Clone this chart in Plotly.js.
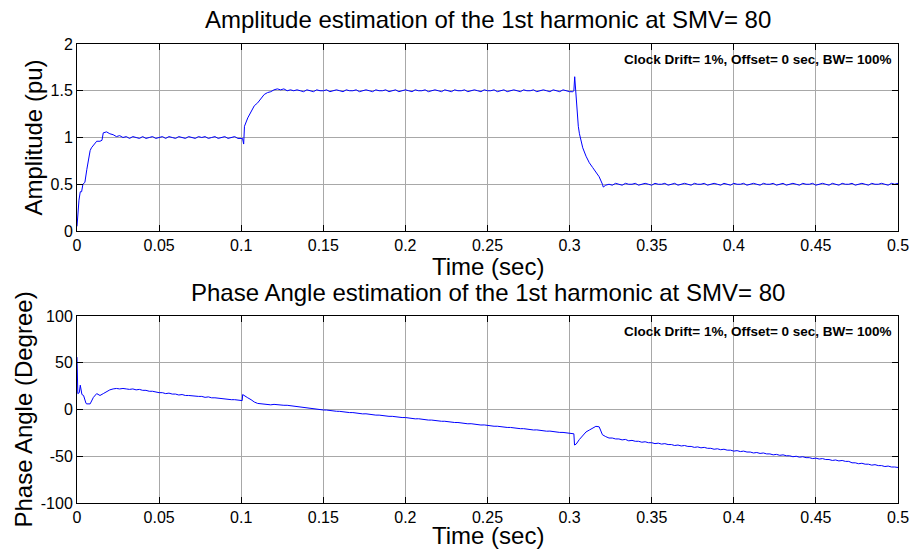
<!DOCTYPE html>
<html>
<head>
<meta charset="utf-8">
<script src="https://cdn.plot.ly/plotly-3.0.1.min.js"></script>
<style>html,body{margin:0;padding:0;background:#fff;}</style>
</head>
<body>
<div id="chart" style="width:917px;height:551px;"></div>
<script>
// ---------- DATA ----------
const sampleStep = 0.002;

// Amplitude (pu), sampled every 2 ms, in three segments
const ampStartTimes = [0, 0.102, 0.302];
const amp0to100 = [0.05,0.42,0.51,0.66,0.86,0.92,0.96,0.96,1.05,1.06,1.04,
  1.03,1.01,1.02,1.00,1.01,0.99,1.01,1.00,0.99,1.01,0.99,1.00,1.01,0.99,1.00,1.01,0.99,1.01,1.00,0.99,
  1.01,1.00,0.99,1.01,1.00,0.99,1.01,1.00,1.01,0.99,1.00,1.01,0.99,1.00,1.01,0.99,1.00,1.01,0.99,0.99];
const amp102to300 = [1.12,1.21,1.27,1.34,1.37,1.41,1.46,1.48,1.49,1.51,1.52,1.51,1.52,1.50,1.51,
  1.50,1.51,1.50,1.49,1.51, 1.50,1.49,1.51,1.50,1.50, 1.51,1.49,1.50,1.51,1.50, 1.49,1.51,1.50,1.50,1.51,
  1.49,1.50,1.51,1.50,1.49, 1.51,1.50,1.50,1.51,1.49, 1.50,1.51,1.49,1.50,1.51, 1.50,1.49,1.51,1.50,1.50,
  1.51,1.49,1.50,1.51,1.50, 1.49,1.51,1.50,1.49,1.51, 1.50,1.50,1.51,1.49,1.50, 1.51,1.50,1.49,1.51,1.50,
  1.50,1.51,1.49,1.50,1.51, 1.49,1.50,1.51,1.50,1.49, 1.51,1.50,1.50,1.51,1.49, 1.50,1.51,1.50,1.49,1.51,
  1.50,1.49,1.51,1.50,1.49];
const amp302to500 = [1.49,1.38,1.04,0.89,0.80,0.73,0.68,0.63,0.58,0.50,
  0.49,0.50,0.49,0.51,0.50, 0.49,0.51,0.50,0.50,0.51, 0.49,0.50,0.51,0.50,0.49, 0.51,0.50,0.50,0.51,0.49,
  0.50,0.51,0.49,0.50,0.51, 0.50,0.49,0.51,0.50,0.50, 0.51,0.49,0.50,0.51,0.50, 0.49,0.51,0.50,0.49,0.51,
  0.50,0.50,0.51,0.49,0.50, 0.51,0.50,0.49,0.51,0.50, 0.50,0.51,0.49,0.50,0.51, 0.49,0.50,0.51,0.50,0.49,
  0.51,0.50,0.50,0.51,0.49, 0.50,0.51,0.50,0.49,0.51, 0.50,0.49,0.51,0.50,0.50, 0.51,0.49,0.50,0.51,0.50,
  0.49,0.51,0.50,0.50,0.51, 0.50,0.49,0.51,0.50,0.51];
// extra samples at the fast transients
const ampExtraT = [0.0003,0.0012,0.0028,0.0036,0.0048,0.0068,0.0088,0.0152,0.1008,0.1015,0.3026,0.3031,0.3053,0.3205];
const ampExtraV = [0.15,0.33,0.42,0.50,0.52,0.74,0.89,0.97,0.99,0.93,1.50,1.65,1.12,0.47];

// Phase angle (degree), sampled every 2 ms, in three segments
const phStartTimes = [0, 0.102, 0.302];
const ph0to100 = [56,26,15,6,6,13,17,15,17,19,21,22,22.5,22,22.5,22,21.5,22,21,21.5,20.5,20.5,19.5,19.5,18.5,18,
  18,17,17.5,16.5,16.5,15.5,16,15,15,14.5,14.5,14,14,13,13.5,12.5,12.5,12,11.5,11.5,11,10.5,10.5,10,9.5];
const ph102to300 = [14.5,12.5,10.5,8,6.5,6,5.5,5.5,5,5.5,5,5,4.5,4.5,4,4,3.5,3,2.5,2,1.5,1,0.5,
  0.0,-0.5,-0.6,-1.2,-1.3,-1.9,-2.0,-2.6,-2.6,-3.3,-3.3,-4.0,-3.9,-4.7,-4.6,-5.3,-5.3,-6.0,-6.0,-6.7,
  -6.6,-7.3,-7.3,-8.0,-8.0,-8.6,-8.6,-9.3,-9.3,-10.0,-9.9,-10.6,-10.6,-11.3,-11.3,-12.0,-11.9,-12.6,
  -12.6,-13.3,-13.2,-13.9,-13.9,-14.6,-14.6,-15.3,-15.2,-15.9,-15.9,-16.6,-16.5,-17.2,-17.2,-17.9,
  -17.9,-18.6,-18.5,-19.2,-19.2,-19.9,-19.8,-20.5,-20.5,-21.2,-21.2,-21.9,-21.8,-22.5,-22.5,-23.2,
  -23.1,-23.8,-23.8,-24.5,-24.5,-25.1,-25.1];
const ph302to500 = [-25.8,-37,-32,-28,-24,-22,-20,-18,-18.5,
  -27,-29,-30.5,-30.5,-31.5,-31.5,-32.5,-32,-33.5,-33,-34,-34,-35,-34.5,-35.5,-35.5,-36.5,-36,-37,-36.5,
  -37.5,-37.5,-38.5,-38,-39,-38.5,-39.5,-39.5,-40.5,-40,-41,-40.5,-41.5,-41.5,-42.5,-42,-43,-42.5,-43.5,
  -43.5,-44.5,-44,-45,-44.5,-45.5,-45.5,-46.5,-46,-47,-46.5,-47.5,-47.5,-48.5,-48,-49,-48.5,-49.5,-49.5,
  -50.5,-50,-51,-50.5,-51.5,-51.5,-52.5,-52,-53,-52.5,-53.5,-53.5,-54.5,-54,-55,-54.5,-55.5,-55.5,
  -57,-57,-58,-57.5,-58.5,-58.5,-59.5,-59,-60,-60,-61,-60.5,-61.5,-61.5,-62];
const phExtraT = [0.0005,0.0014,0.003,0.0055,0.1006,0.1009,0.3026,0.3030];
const phExtraV = [17,18,16,6.5,9.5,16,-26,-38];

// Tick labels
const timeTicks = [0,0.05,0.1,0.15,0.2,0.25,0.3,0.35,0.4,0.45,0.5];
const timeTickText = ['0','0.05','0.1','0.15','0.2','0.25','0.3','0.35','0.4','0.45','0.5'];
const ampTicks = [0,0.5,1,1.5,2];
const ampTickText = ['0','0.5','1','1.5','2'];
const phTicks = [-100,-50,0,50,100];
const phTickText = ['-100','-50','0','50','100'];

const topTitle = 'Amplitude estimation of the 1st harmonic at SMV= 80';
const botTitle = 'Phase Angle estimation of the 1st harmonic at SMV= 80';
const xLabel = 'Time (sec)';
const ampLabel = 'Amplitude (pu)';
const phLabel = 'Phase Angle (Degree)';
const note = 'Clock Drift= 1%, Offset= 0 sec, BW= 100%';

// ---------- BUILD ----------
function build(starts, segs, exT, exV) {
  const pts = [];
  segs.forEach((seg, s) => {
    seg.forEach((v, i) => pts.push([+(starts[s] + i * sampleStep).toFixed(5), v]));
  });
  exT.forEach((t, k) => pts.push([t, exV[k]]));
  pts.sort((a, b) => a[0] - b[0]);
  return { x: pts.map(p => p[0]), y: pts.map(p => p[1]) };
}
const amp = build(ampStartTimes, [amp0to100, amp102to300, amp302to500], ampExtraT, ampExtraV);
const ph = build(phStartTimes, [ph0to100, ph102to300, ph302to500], phExtraT, phExtraV);

const W = 917, H = 551;
const px = v => v / W, py = v => (H - v) / H;
const FONT = 'Liberation Sans, Arial, Helvetica, sans-serif';

const common = {
  showline: true, linecolor: 'black', linewidth: 1, mirror: 'ticks',
  ticks: 'inside', ticklen: 6, tickcolor: 'black', tickwidth: 1,
  showgrid: true, gridcolor: '#a8a8a8', gridwidth: 1, zeroline: false,
  tickfont: { family: FONT, size: 16, color: 'black' }, fixedrange: true
};

const traces = [
  { x: amp.x, y: amp.y, type: 'scatter', mode: 'lines', xaxis: 'x', yaxis: 'y',
    line: { color: '#0000ff', width: 1 }, hoverinfo: 'skip' },
  { x: ph.x, y: ph.y, type: 'scatter', mode: 'lines', xaxis: 'x2', yaxis: 'y2',
    line: { color: '#0000ff', width: 1 }, hoverinfo: 'skip' }
];

const ann = (text, x, y, opts) => Object.assign({
  text, x: px(x), y: py(y), xref: 'paper', yref: 'paper', showarrow: false,
  xanchor: 'center', yanchor: 'middle', font: { family: FONT, size: 24, color: 'black' }
}, opts || {});

const layout = {
  width: W, height: H, margin: { l: 0, r: 0, t: 0, b: 0 },
  paper_bgcolor: 'white', plot_bgcolor: 'white', showlegend: false,
  font: { family: FONT, color: 'black' },
  xaxis: Object.assign({}, common, { domain: [px(77), px(898)], range: [0, 0.5], anchor: 'y',
    tickvals: timeTicks, ticktext: timeTickText }),
  yaxis: Object.assign({}, common, { domain: [py(231), py(44)], range: [0, 2], anchor: 'x',
    tickvals: ampTicks, ticktext: ampTickText }),
  xaxis2: Object.assign({}, common, { domain: [px(77), px(898)], range: [0, 0.5], anchor: 'y2',
    tickvals: timeTicks, ticktext: timeTickText }),
  yaxis2: Object.assign({}, common, { domain: [py(503), py(316)], range: [-100, 100], anchor: 'x2',
    tickvals: phTicks, ticktext: phTickText }),
  annotations: [
    ann(topTitle, 487.5, 20),
    ann(botTitle, 487.5, 292),
    ann(xLabel, 487.5, 266),
    ann(xLabel, 487.5, 535),
    ann(ampLabel, 33, 137.5, { textangle: -90 }),
    ann(phLabel, 23, 409.5, { textangle: -90 }),
    ann('<b>' + note + '</b>', 893, 59, { xanchor: 'right', font: { family: FONT, size: 13.5, color: 'black' } }),
    ann('<b>' + note + '</b>', 893, 331, { xanchor: 'right', font: { family: FONT, size: 13.5, color: 'black' } })
  ]
};

Plotly.newPlot('chart', traces, layout, { staticPlot: true, displayModeBar: false });
</script>
</body>
</html>
